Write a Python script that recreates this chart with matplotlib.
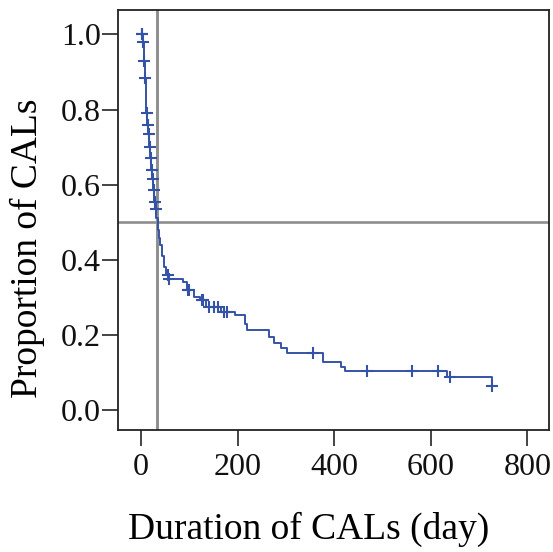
import numpy as np
import matplotlib
matplotlib.use("Agg")
import matplotlib.pyplot as plt

# Kaplan-Meier step curve (time in days, proportion)
step_times = [0, 3, 5, 7, 9, 11, 13, 15, 17, 19, 21, 23, 25, 27, 29, 31, 34, 37, 40, 44, 48,
              52, 56, 87, 94, 110, 122, 135, 165, 195, 215, 220, 265, 275, 290, 302, 377,
              415, 423, 634, 727]
step_surv = [1.0, 0.98, 0.93, 0.885, 0.84, 0.79, 0.76, 0.735, 0.70, 0.67, 0.64, 0.615, 0.585,
             0.555, 0.535, 0.51, 0.48, 0.459, 0.44, 0.41, 0.38, 0.36, 0.35, 0.34, 0.32, 0.30,
             0.293, 0.275, 0.26, 0.253, 0.23, 0.213, 0.195, 0.179, 0.165, 0.152, 0.128,
             0.115, 0.104, 0.088, 0.065]
censor_times = [1, 2, 4, 6, 8, 12, 14, 16, 18, 20, 22, 24, 26, 28, 30, 55, 58, 97, 99, 126,
                128, 140, 150, 160, 172, 178, 357, 468, 561, 616, 640, 727]
median_time = 33
median_level = 0.5

x_ticks = [0, 200, 400, 600, 800]
y_ticks = [0.0, 0.2, 0.4, 0.6, 0.8, 1.0]
x_label = "Duration of CALs (day)"
y_label = "Proportion of CALs"

plt.rcParams['font.family'] = ['Liberation Serif', 'DejaVu Serif']

fig = plt.figure(figsize=(5.53, 5.52), dpi=100)
ax = fig.add_axes([0.2134, 0.221, 0.7794, 0.761])

blue = '#3553a6'
gray = '#8e8e8e'

ax.axhline(median_level, color=gray, lw=1.9, zorder=1)
ax.axvline(median_time, color=gray, lw=2.1, zorder=1)

ax.step(step_times, step_surv, where='post', color=blue, lw=1.4, zorder=3)

st = np.array(step_times)
sv = np.array(step_surv)
idx = np.searchsorted(st, censor_times, side='right') - 1
cy = sv[idx]
ax.plot(censor_times, cy, linestyle='none', marker='+', color=blue, ms=9, mew=1.5, zorder=4)

ax.set_xlim(-48, 845)
ax.set_ylim(-0.053, 1.065)
ax.set_xticks(x_ticks)
ax.set_yticks(y_ticks)
ax.set_yticklabels([f"{v:.1f}" for v in y_ticks])
ax.tick_params(direction='out', length=11.5, width=1.1, labelsize=23, colors='#111111')
ax.tick_params(axis='y', pad=1)
ax.tick_params(axis='x', pad=5)
for s in ax.spines.values():
    s.set_linewidth(1.3)
    s.set_color('#222222')

ax.set_xlabel(x_label, fontsize=27)
ax.set_ylabel(y_label, fontsize=27)
ax.xaxis.set_label_coords(0.443, -0.194)
ax.yaxis.set_label_coords(-0.17, 0.433)

fig.savefig("out.png", dpi=100)
